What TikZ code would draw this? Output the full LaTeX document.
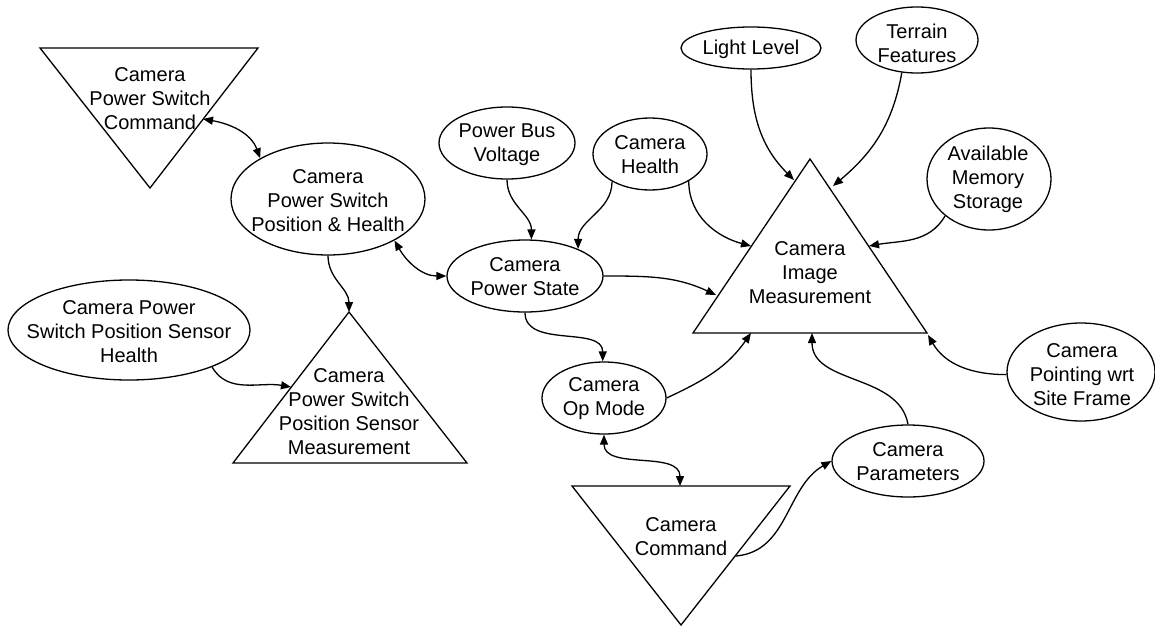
\documentclass[tikz,border=0pt]{standalone}
\usepackage{fontspec}
\setmainfont{Liberation Sans}
\usetikzlibrary{shapes.geometric,arrows.meta}
\begin{document}
\begin{tikzpicture}[x=1pt,y=1pt,
  txt/.style={font=\fontsize{20}{24}\selectfont, align=center, inner sep=0pt},
  ell/.style={draw, ellipse, line width=1.3pt, inner sep=0pt},
  conn/.style={line width=1.3pt, -{Triangle[length=10pt,width=8pt]}},
  bconn/.style={line width=1.3pt, {Triangle[length=10pt,width=8pt]}-{Triangle[length=10pt,width=8pt]}},
  tri/.style={draw, line width=1.3pt, line join=miter}
]
\useasboundingbox (0,0) rectangle (1155,-626);

% triangles
\draw[tri] (40,-48) -- (258,-48) -- (150,-188) -- cycle;
\node[txt] (cmd1) at (150,-99) {Camera\\Power Switch\\Command};
\draw[tri] (349,-312) -- (467,-463) -- (233,-463) -- cycle;
\node[txt] (sm) at (349,-412) {Camera\\Power Switch\\Position Sensor\\Measurement};
\draw[tri] (810,-159) -- (927,-333) -- (693,-333) -- cycle;
\node[txt] (im) at (810,-273) {Camera\\Image\\Measurement};
\draw[tri] (572,-486) -- (790,-486) -- (681,-625) -- cycle;
\node[txt] (cc) at (681,-537) {Camera\\Command};

% ellipses
\node[ell, minimum width=194pt, minimum height=112pt] (psph) at (328,-199) {};
\node[txt] (psph-t) at (328,-201) {Camera\\Power Switch\\Position \& Health};
\node[ell, minimum width=242pt, minimum height=100pt] (sh) at (129,-330) {};
\node[txt] (sh-t) at (129,-332) {Camera Power\\Switch Position Sensor\\Health};
\node[ell, minimum width=136pt, minimum height=72pt] (pbv) at (507,-143) {};
\node[txt] (pbv-t) at (507,-145) {Power Bus\\Voltage};
\node[ell, minimum width=114pt, minimum height=72pt] (ch) at (650,-154) {};
\node[txt] (ch-t) at (650,-155) {Camera\\Health};
\node[ell, minimum width=140pt, minimum height=42pt] (ll) at (751,-48) {};
\node[txt] (ll-t) at (751,-49) {Light Level};
\node[ell, minimum width=156pt, minimum height=72pt] (ps) at (525,-276) {};
\node[txt] (ps-t) at (525,-277) {Camera\\Power State};
\node[ell, minimum width=122pt, minimum height=66pt] (tf) at (917,-40) {};
\node[txt] (tf-t) at (917,-43) {Terrain\\Features};
\node[ell, minimum width=124pt, minimum height=102pt] (ams) at (989,-179) {};
\node[txt] (ams-t) at (988,-179) {Available\\Memory\\Storage};
\node[ell, minimum width=148pt, minimum height=98pt] (cp) at (1081,-372) {};
\node[txt] (cp-t) at (1082,-375) {Camera\\Pointing wrt\\Site Frame};
\node[ell, minimum width=124pt, minimum height=72pt] (om) at (604,-398) {};
\node[txt] (om-t) at (604,-399) {Camera\\Op Mode};
\node[ell, minimum width=152pt, minimum height=72pt] (par) at (908,-461) {};
\node[txt] (par-t) at (908,-462) {Camera\\Parameters};

% connector end points on triangles
\coordinate (cmd1R) at (203,-119);
\coordinate (smA) at (349,-312);
\coordinate (smL) at (291,-387);
\coordinate (imL1) at (751,-246);
\coordinate (imL2) at (716,-295);
\coordinate (imA1) at (794,-180);
\coordinate (imA2) at (833,-186);
\coordinate (imR) at (869,-246);
\coordinate (imB1) at (751,-333);
\coordinate (imB2) at (812,-333);
\coordinate (imB3) at (928,-335);
\coordinate (ccT) at (680,-486);
\coordinate (ccR) at (736,-556);

% connectors
\draw[bconn] (cmd1R) to[out=-10,in=110] (psph.149);
\draw[bconn] (psph.-32) to[out=-60,in=180] (ps.180);
\draw[conn] (psph.-90) to[out=-90,in=90] (smA);
\draw[conn] (sh.-24) to[out=-60,in=170] (smL);
\draw[conn] (pbv.-90) to[out=-90,in=90] (ps.80);
\draw[conn] (ch.-144) to[out=-90,in=90] (ps.27);
\draw[conn] (ch.-35) to[out=-90,in=165] (imL1);
\draw[conn] (ps.0) to[out=0,in=155] (imL2);
\draw[conn] (ll.-90) to[out=-90,in=135] (imA1);
\draw[conn] (tf.-115) to[out=-100,in=40] (imA2);
\draw[conn] (ams.-140) to[out=-120,in=10] (imR);
\draw[conn] (cp.182) to[out=180,in=-60] (imB3);
\draw[conn] (ps.-90) to[out=-90,in=90] (om.92);
\draw[conn] (om.0) to[out=25,in=-125] (imB1);
\draw[bconn] (om.-90) to[out=-90,in=90] (ccT);
\draw[conn] (ccR) to[out=5,in=-150] (par.180);
\draw[conn] (par.90) to[out=100,in=-90] (imB2);
\end{tikzpicture}
\end{document}
